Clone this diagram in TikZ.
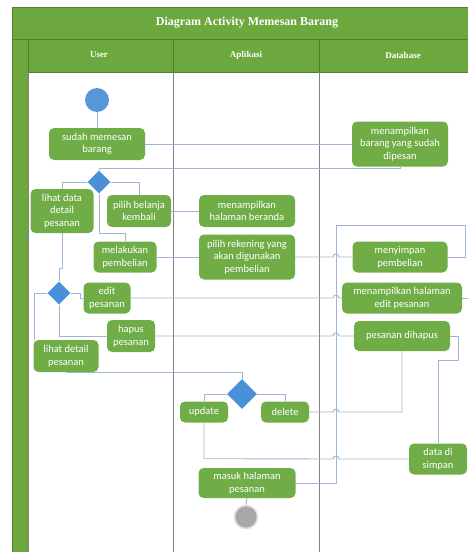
\documentclass[tikz,border=0pt]{standalone}
\usepackage{fontspec}
\setmainfont{Carlito}
\newfontfamily\headfont{Liberation Serif}
\usetikzlibrary{shapes.geometric}
\definecolor{actgreen}{RGB}{112,173,71}
\definecolor{framegreen}{RGB}{108,168,62}
\definecolor{darkgreen}{RGB}{80,128,46}
\definecolor{flowblue}{RGB}{158,182,214}
\definecolor{decblue}{RGB}{74,144,217}
\definecolor{startblue}{RGB}{86,152,218}
\definecolor{lanegray}{RGB}{130,130,130}
\begin{document}
\begin{tikzpicture}[x=1pt,y=-1pt,
  act/.style={fill=actgreen, text=white, rounded corners=5pt, align=center,
    inner sep=0pt, font=\fontsize{10.5}{12.5}\selectfont},
  decision/.style={diamond, fill=decblue, inner sep=0pt},
  flow/.style={draw=flowblue, line width=0.9pt},
  lane/.style={draw=lanegray, line width=0.8pt},
  headline/.style={draw=darkgreen, line width=0.8pt},
  headtext/.style={text=white, font=\headfont\bfseries\fontsize{9}{11}\selectfont}]
\useasboundingbox (0,0) rectangle (468,552);
\clip (0,0) rectangle (468,552);

% swimlane frame
\fill[framegreen] (12,7) rectangle (472,72);
\fill[framegreen] (12,72) rectangle (28,556);
\draw[headline] (12,556) -- (12,7) -- (472,7);
\draw[headline] (12,39) -- (472,39);
\draw[headline] (28,72) -- (472,72);
\draw[headline] (28,39) -- (28,72);
\draw[headline] (173,39) -- (173,72);
\draw[headline] (319,39) -- (319,72);
\draw[lane] (28,72) -- (28,556);
\draw[lane] (173,72) -- (173,556);
\draw[lane] (319,72) -- (319,556);
\node[text=white, font=\headfont\bfseries\fontsize{12}{14}\selectfont] (title) at (247,23) {Diagram Activity Memesan Barang};
\node[headtext] (huser) at (99,55) {User};
\node[headtext] (happ) at (246,55) {Aplikasi};
\node[headtext] (hdb) at (403,55) {Database};

% start and end
\node[circle, fill=startblue, inner sep=0pt, minimum size=24pt] (start) at (97,100) {};
\node[circle, fill=gray!68, draw=gray!25, line width=1.6pt, inner sep=0pt, minimum size=23pt] (stop) at (246,517) {};

% activities
\node[act, minimum width=96pt, minimum height=32pt] (sm) at (97,144) {sudah memesan\\barang};
\node[act, minimum width=96pt, minimum height=45pt] (mb) at (400,144) {menampilkan\\barang yang sudah\\dipesan};
\node[act, minimum width=63pt, minimum height=44pt] (ld) at (62,211) {lihat data\\detail\\pesanan};
\node[act, minimum width=64pt, minimum height=32pt] (pb) at (139,211) {pilih belanja\\kembali};
\node[act, minimum width=96pt, minimum height=32pt] (mhb) at (247,211) {menampilkan\\halaman beranda};
\node[act, minimum width=63pt, minimum height=31pt] (mk) at (125,257) {melakukan\\pembelian};
\node[act, minimum width=96pt, minimum height=45pt] (pr) at (247,257) {pilih rekening yang\\akan digunakan\\pembelian};
\node[act, minimum width=95pt, minimum height=31pt] (ms) at (400,257) {menyimpan\\pembelian};
\node[act, minimum width=47pt, minimum height=31pt] (ep) at (107,298) {edit\\pesanan};
\node[act, minimum width=120pt, minimum height=31pt] (mhe) at (402,298) {menampilkan halaman\\edit pesanan};
\node[act, minimum width=48pt, minimum height=32pt] (hp) at (131,336) {hapus\\pesanan};
\node[act, minimum width=96pt, minimum height=30pt] (pd) at (402,336) {pesanan dihapus};
\node[act, minimum width=65pt, minimum height=32pt] (ldp) at (66,356) {lihat detail\\pesanan};
\node[act, minimum width=48pt, minimum height=21pt] (up) at (204,412) {update};
\node[act, minimum width=48pt, minimum height=21pt] (de) at (285,412) {delete};
\node[act, minimum width=58pt, minimum height=31pt] (ds) at (438,459) {data di\\simpan};
\node[act, minimum width=97pt, minimum height=30pt] (mhp) at (247,483) {masuk halaman\\pesanan};

% decisions
\node[decision, minimum size=23pt] (d1) at (99,182) {};
\node[decision, minimum size=23pt] (d2) at (59,293) {};
\node[decision, minimum size=30pt] (d3) at (242,394) {};

% free ends of the saving loop
\coordinate (loopA) at (465,225);
\coordinate (loopB) at (336,225);
\coordinate (edgeR) at (472,298);

% connectors
\draw[flow] (start) -- (sm);
\draw[flow] (sm.east) -- (mb.west);
\draw[flow] (mb.south) -- ++(0,1.5) -| (d1.north);
\draw[flow] (d1.west) -| (ld.north);
\draw[flow] (d1.east) -| (pb.north);
\draw[flow] (d1.south) -- ++(0,40) -| (mk.north);
\draw[flow] (pb.east) -- (mhb.west);
\draw[flow] (mk.east) -- (pr.west);
\draw[flow] (pr.east) -- (333,257) .. controls (333,253) and (339,253) .. (339,257) -- (ms.west);
\draw[flow] (ms.east) -| (loopA) -- (loopB) |- (mhp.east);
\draw[flow] (ld.south) -- ++(0,35) -| (d2.north);
\draw[flow] (d2.east) -- ++(10,0) |- (ep.west);
\draw[flow] (ep.east) -- (333,298) .. controls (333,294) and (339,294) .. (339,298) -- (mhe.west);
\draw[flow] (mhe.east) -- (edgeR);
\draw[flow] (d2.south) |- (hp.west);
\draw[flow] (hp.east) -- (333,336) .. controls (333,332) and (339,332) .. (339,336) -- (pd.west);
\draw[flow] (d2.west) -- ++(-12.5,0) |- ([xshift=1pt]ldp.north west);
\draw[flow] (ldp.south) -| (d3.north);
\draw[flow] (d3.west) -| (up.north);
\draw[flow] (d3.east) -| (de.north);
\draw[flow] (de.east) -- (333,412) .. controls (333,408) and (339,408) .. (339,412) -| (pd.south);
\draw[flow] (up.south) -- ++(0,36) -- (333,459) .. controls (333,455) and (339,455) .. (339,459) -- (ds.west);
\draw[flow] (pd.east) -- ++(8,0) -- ++(0,24) -| (ds.north);
\draw[flow] (mhp.south) -- (stop.north);
\end{tikzpicture}
\end{document}
